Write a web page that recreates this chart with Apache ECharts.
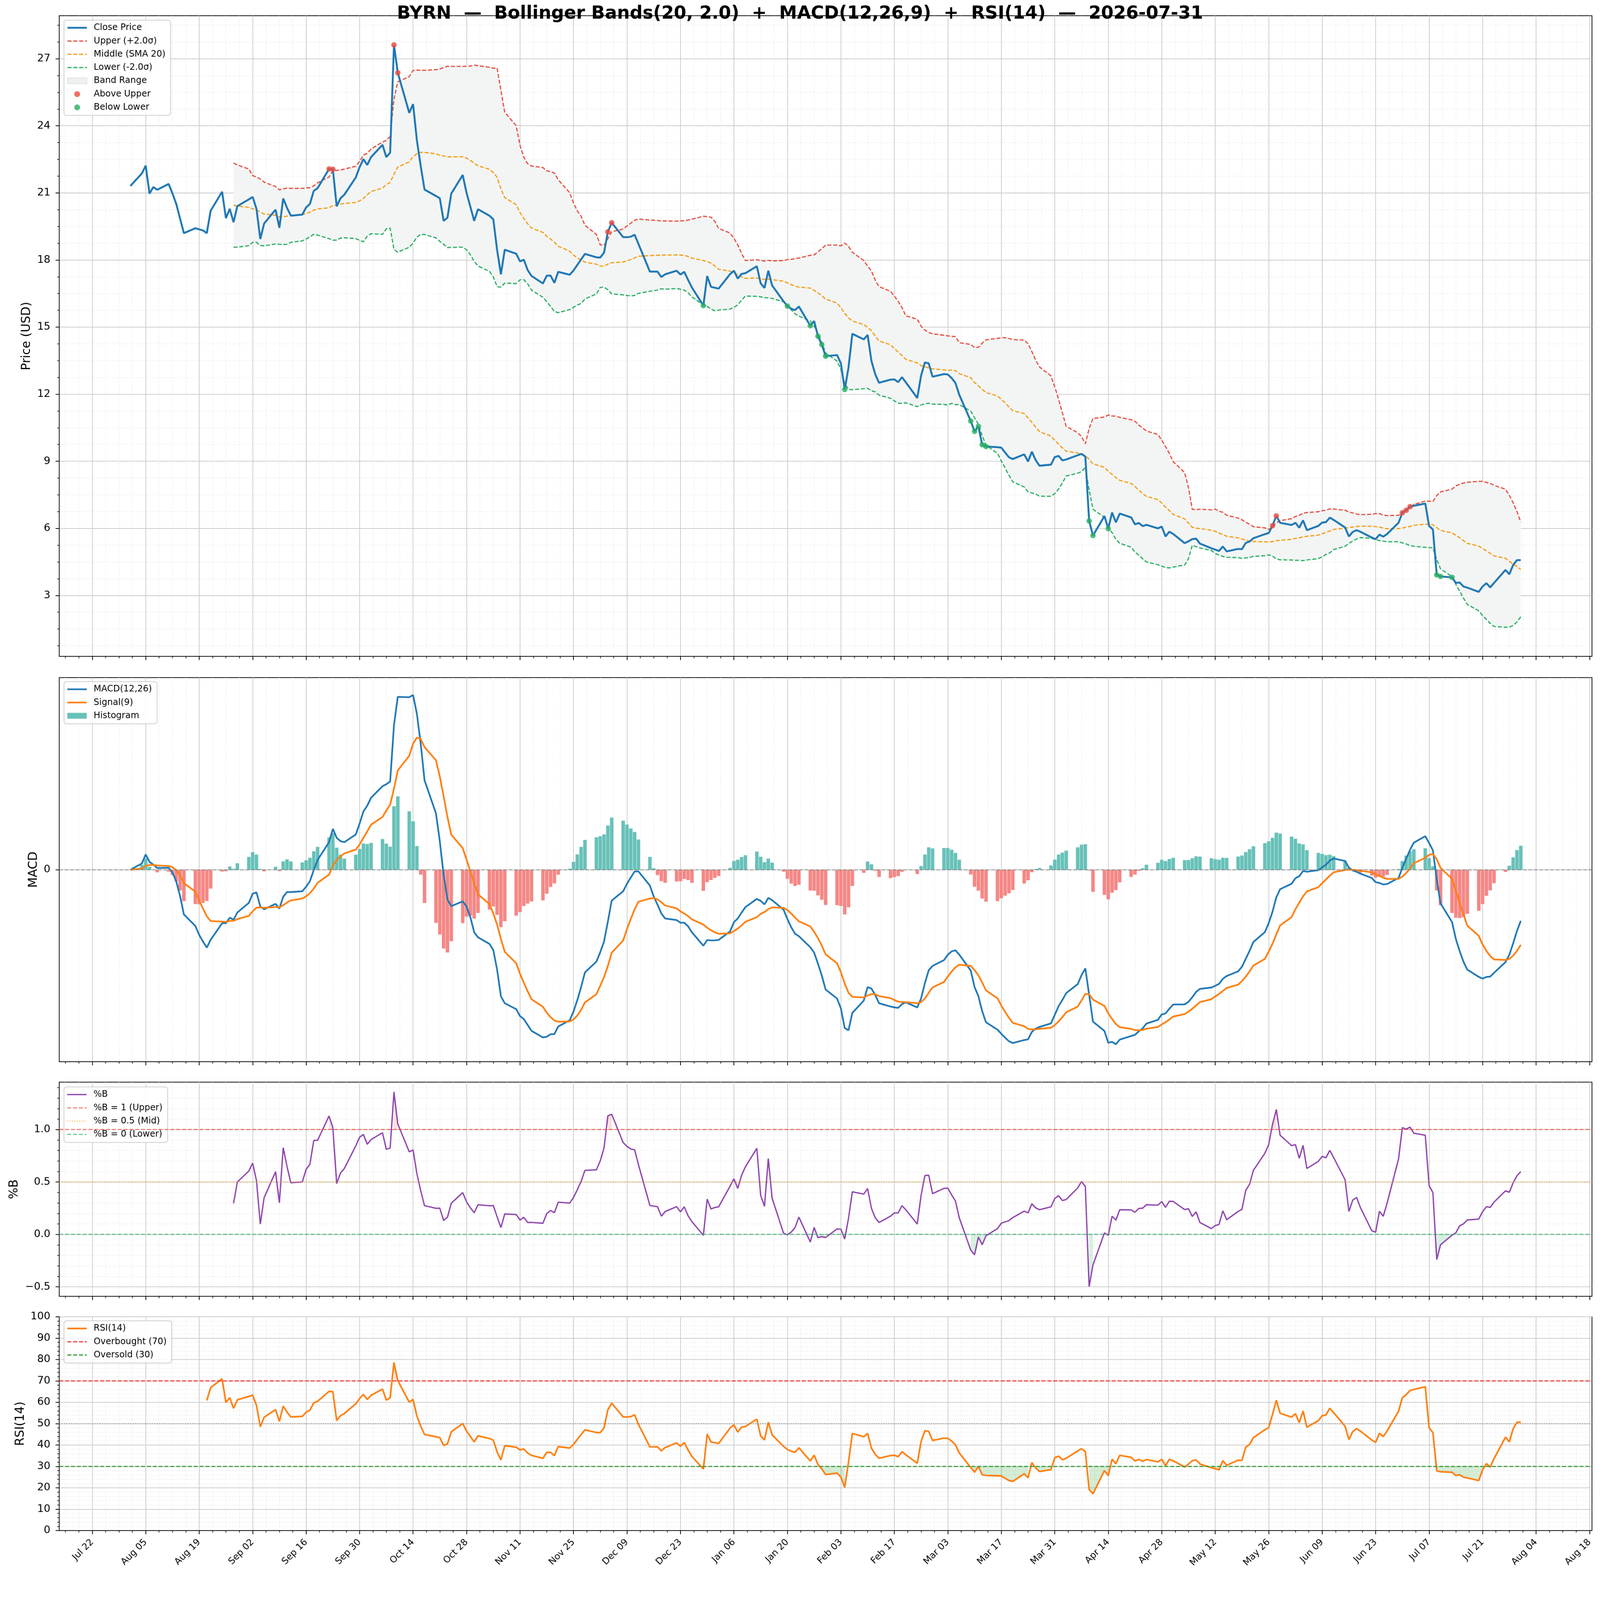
<!DOCTYPE html>
<html>
<head>
<meta charset="utf-8">
<title>BYRN Bollinger Bands + MACD + RSI</title>
<script src="https://cdn.jsdelivr.net/npm/echarts@6.0.0/dist/echarts.min.js"></script>
<style>
html,body{margin:0;padding:0;background:#fff;overflow:hidden;}
#wrap{width:4378px;height:4322px;transform-origin:0 0;}
#chart{width:4378px;height:4322px;}
</style>
</head>
<body>
<div id="wrap"><div id="chart"></div></div>
<script>
// ================= DATA =================
const TICKER = 'BYRN';
const AS_OF = '2026-07-31';
const START_DATE = '2025-08-01';   // first trading day shown
const END_DATE = '2026-07-31';     // last trading day shown (weekdays only)

// Daily close prices (USD), one value per weekday, grouped by month
const close_2025_08 = [21.31, 21.87, 22.22, 20.97, 21.26, 21.14, 21.40, 20.98, 20.51, 19.85, 19.20, 19.42, 19.37, 19.32, 19.20, 20.20, 21.05, 19.87, 20.29, 19.69, 20.41];
const close_2025_09 = [20.71, 20.82, 20.29, 18.94, 19.63, 20.25, 19.44, 20.75, 20.33, 19.98, 20.03, 20.35, 20.51, 21.09, 21.21, 22.07, 22.06, 20.40, 20.76, 20.92, 21.69, 22.15];
const close_2025_10 = [22.51, 22.25, 22.60, 23.15, 22.60, 22.80, 27.62, 26.37, 24.58, 24.97, 23.35, 22.20, 21.15, 20.86, 20.76, 19.75, 19.89, 20.97, 21.80, 21.00, 20.38, 19.75, 20.27];
const close_2025_11 = [19.98, 19.82, 18.45, 17.36, 18.46, 18.28, 17.94, 18.01, 17.55, 17.29, 16.95, 17.30, 17.30, 16.98, 17.47, 17.34, 17.53, 17.78, 18.03, 18.27];
const close_2025_12 = [18.12, 18.11, 18.33, 19.26, 19.67, 19.02, 19.02, 19.04, 19.13, 18.72, 17.48, 17.48, 17.48, 17.24, 17.36, 17.52, 17.35, 17.47, 17.11, 16.77, 15.96, 17.28, 16.80];
const close_2026_01 = [16.76, 16.72, 17.37, 17.52, 17.17, 17.38, 17.41, 17.72, 16.96, 16.75, 17.52, 16.86, 16.15, 15.94, 15.82, 15.76, 15.92, 15.06, 15.27, 14.59, 14.22, 13.70];
const close_2026_02 = [13.75, 13.38, 12.21, 13.19, 14.70, 14.45, 14.65, 13.49, 12.89, 12.51, 12.65, 12.66, 12.54, 12.76, 12.53, 11.83, 12.83, 13.42, 13.38, 12.78];
const close_2026_03 = [12.90, 12.88, 12.72, 12.50, 11.97, 10.80, 10.34, 10.56, 9.74, 9.66, 9.63, 9.61, 9.39, 9.18, 9.10, 9.31, 8.99, 9.43, 9.05, 8.80, 8.85, 9.19];
const close_2026_04 = [9.24, 9.04, 9.08, 9.27, 9.33, 9.21, 6.33, 5.68, 6.55, 5.99, 6.71, 6.27, 6.66, 6.49, 6.18, 6.24, 6.10, 6.16, 6.00, 6.08, 5.64, 5.85];
const close_2026_05 = [5.75, 5.34, 5.42, 5.52, 5.54, 5.32, 5.11, 5.05, 4.99, 5.19, 4.97, 5.08, 5.07, 5.35, 5.41, 5.56, 5.74, 5.79, 6.12, 6.56, 6.25];
const close_2026_06 = [6.15, 6.25, 6.03, 6.36, 5.92, 6.11, 6.26, 6.28, 6.48, 6.38, 6.04, 5.64, 5.84, 5.92, 5.85, 5.59, 5.52, 5.72, 5.63, 5.75, 6.25, 6.70];
const close_2026_07 = [6.81, 6.97, 7.01, 7.11, 6.11, 5.95, 3.92, 3.85, 3.81, 3.56, 3.58, 3.40, 3.35, 3.16, 3.40, 3.55, 3.36, 3.56, 4.14, 3.95, 4.36, 4.58, 4.58];

// Indicator parameters (from the title)
const BB_PERIOD = 20, BB_K = 2.0;
const MACD_FAST = 12, MACD_SLOW = 26, MACD_SIGNAL = 9;
const RSI_PERIOD = 14;

// Tick labels
const X_TICK_DATES = ['2025-07-22','2025-08-05','2025-08-19','2025-09-02','2025-09-16','2025-09-30','2025-10-14','2025-10-28','2025-11-11','2025-11-25','2025-12-09','2025-12-23','2026-01-06','2026-01-20','2026-02-03','2026-02-17','2026-03-03','2026-03-17','2026-03-31','2026-04-14','2026-04-28','2026-05-12','2026-05-26','2026-06-09','2026-06-23','2026-07-07','2026-07-21','2026-08-04','2026-08-18'];
const PRICE_TICKS = [3, 6, 9, 12, 15, 18, 21, 24, 27];
const MACD_TICKS = [0];
const PCTB_TICKS = [-0.5, 0.0, 0.5, 1.0];
const RSI_TICKS = [0, 10, 20, 30, 40, 50, 60, 70, 80, 90, 100];

// ================= DERIVED SERIES =================
const MS_DAY = 86400000;
const MONTHS = ['Jan','Feb','Mar','Apr','May','Jun','Jul','Aug','Sep','Oct','Nov','Dec'];
function parseDate(s) { const p = s.split('-').map(Number); return Date.UTC(p[0], p[1] - 1, p[2]); }
function fmtDate(t) { const d = new Date(t); return MONTHS[d.getUTCMonth()] + ' ' + String(d.getUTCDate()).padStart(2, '0'); }

const allDates = [];
for (let t = parseDate(START_DATE); t <= parseDate(END_DATE); t += MS_DAY) {
  const wd = new Date(t).getUTCDay();
  if (wd !== 0 && wd !== 6) allDates.push(t);
}
const allClose = [].concat(close_2025_08, close_2025_09, close_2025_10, close_2025_11, close_2025_12,
  close_2026_01, close_2026_02, close_2026_03, close_2026_04, close_2026_05, close_2026_06, close_2026_07);
const n = Math.min(allDates.length, allClose.length);
const dates = allDates.slice(0, n), close = allClose.slice(0, n);

// Bollinger bands (SMA20, sample std)
const mid = [], upper = [], lower = [], pctB = [];
for (let i = 0; i < n; i++) {
  if (i < BB_PERIOD - 1) { mid.push(null); upper.push(null); lower.push(null); pctB.push(null); continue; }
  let s = 0; for (let j = i - BB_PERIOD + 1; j <= i; j++) s += close[j];
  const m = s / BB_PERIOD;
  let v = 0; for (let j = i - BB_PERIOD + 1; j <= i; j++) v += (close[j] - m) * (close[j] - m);
  const sd = Math.sqrt(v / (BB_PERIOD - 1));
  mid.push(m); upper.push(m + BB_K * sd); lower.push(m - BB_K * sd);
  pctB.push((close[i] - (m - BB_K * sd)) / (2 * BB_K * sd));
}
// MACD
function ema(arr, span) { const a = 2 / (span + 1); const out = []; for (let i = 0; i < arr.length; i++) out.push(i === 0 ? arr[0] : a * arr[i] + (1 - a) * out[i - 1]); return out; }
const emaF = ema(close, MACD_FAST), emaS = ema(close, MACD_SLOW);
const macd = emaF.map((v, i) => v - emaS[i]);
const signal = ema(macd, MACD_SIGNAL);
const hist = macd.map((v, i) => v - signal[i]);
// RSI (Wilder smoothing)
const rsi = [null];
{ const a = 1 / RSI_PERIOD; let ag = 0, al = 0;
  for (let i = 1; i < n; i++) {
    const d = close[i] - close[i - 1], g = Math.max(d, 0), l = Math.max(-d, 0);
    if (i === 1) { ag = g; al = l; } else { ag = a * g + (1 - a) * ag; al = a * l + (1 - a) * al; }
    rsi.push(i >= RSI_PERIOD ? (al === 0 ? 100 : 100 - 100 / (1 + ag / al)) : null);
  } }

// ================= AXIS EXTENTS (matplotlib-like 5% margins) =================
function padExtent(vals, frac) {
  let lo = Infinity, hi = -Infinity;
  vals.forEach(v => { if (v != null && isFinite(v)) { lo = Math.min(lo, v); hi = Math.max(hi, v); } });
  const p = (hi - lo) * frac; return [lo - p, hi + p];
}
const HALF_BAR = 0.4 * MS_DAY;
const [X_MIN, X_MAX] = padExtent([dates[0] - HALF_BAR, dates[n - 1] + HALF_BAR], 0.05);
const [P_MIN, P_MAX] = padExtent([].concat(close, upper, lower), 0.05);
const [M_MIN, M_MAX] = padExtent([].concat(macd, signal, hist, [0]), 0.05);
const [B_MIN, B_MAX] = padExtent(pctB, 0.05);

const X_MAJOR = X_TICK_DATES.map(parseDate).filter(t => t >= X_MIN && t <= X_MAX);
function minorTicks(majors, nDiv, lo, hi) {
  const step = (majors[1] - majors[0]) / nDiv, out = [];
  const start = majors[0] - Math.ceil((majors[0] - lo) / step) * step;
  for (let k = 0; ; k++) {
    const v = start + k * step; if (v > hi + 1e-9) break;
    if (v < lo - 1e-9) continue;
    if (majors.some(m => Math.abs(m - v) < step * 1e-6)) continue;
    out.push(v);
  }
  return out;
}
const X_MINOR = minorTicks(X_MAJOR, 4, X_MIN, X_MAX);
const PRICE_MINOR = minorTicks(PRICE_TICKS, 4, P_MIN, P_MAX);
const PCTB_MINOR = minorTicks(PCTB_TICKS, 5, B_MIN, B_MAX);
const RSI_MINOR = minorTicks(RSI_TICKS, 5, 0, 100);

// ================= STYLE =================
const FONT = "'DejaVu Sans', sans-serif";
const GRID_LEFT = 162, GRID_RIGHT = 22;
const PANELS = [ { top: 43, height: 1753 }, { top: 1854, height: 1051 }, { top: 2961, height: 586 }, { top: 3603, height: 585 } ];
const MAJOR_GRID = { color: '#cbcbcb', width: 2 };
const MINOR_GRID = { color: '#dedede', width: 1.5, type: [2, 4] };
const DASH = [11, 5];
const C_CLOSE = '#1f77b4', C_UP = '#e74c3c', C_MID = '#f39c12', C_LOW = '#27ae60';
const C_HPOS = '#67c1b8', C_HNEG = '#f48785';
const C_BAND = '#f3f5f5';

function xAxesFor(gi, showLabels) {
  return [
    { type: 'value', gridIndex: gi, position: 'bottom', min: X_MIN, max: X_MAX,
      axisLine: { show: true, onZero: false, lineStyle: { color: '#000', width: 2 } },
      axisTick: { show: true, customValues: X_MAJOR, length: 10, lineStyle: { color: '#000', width: 2 } },
      axisLabel: { show: showLabels, customValues: X_MAJOR, formatter: fmtDate, rotate: 45, fontSize: 25, color: '#000', fontFamily: FONT, margin: 28 },
      splitLine: { show: true, lineStyle: MAJOR_GRID } },
    { type: 'value', gridIndex: gi, position: 'bottom', min: X_MIN, max: X_MAX,
      axisLine: { show: false, onZero: false },
      axisTick: { show: true, customValues: X_MINOR, length: 5.5, lineStyle: { color: '#000', width: 1.6 } },
      axisLabel: { show: false },
      splitLine: { show: true, lineStyle: MINOR_GRID } }
  ];
}
function yAxesFor(gi, min, max, majors, minors, fmt, name, nameGap) {
  return [
    { type: 'value', gridIndex: gi, position: 'left', min, max,
      name, nameLocation: 'middle', nameRotate: 90, nameGap,
      nameTextStyle: { fontSize: 33, color: '#000', fontFamily: FONT },
      axisLine: { show: true, onZero: false, lineStyle: { color: '#000', width: 2 } },
      axisTick: { show: true, customValues: majors, length: 10, lineStyle: { color: '#000', width: 2 } },
      axisLabel: { show: true, customValues: majors, formatter: fmt, fontSize: 28.5, color: '#000', fontFamily: FONT, margin: 24 },
      splitLine: { show: true, lineStyle: MAJOR_GRID } },
    { type: 'value', gridIndex: gi, position: 'left', min, max,
      axisLine: { show: false, onZero: false },
      axisTick: { show: minors.length > 0, customValues: minors.length ? minors : majors, length: 5.5, lineStyle: { color: '#000', width: 1.6 } },
      axisLabel: { show: false },
      splitLine: { show: minors.length > 0, lineStyle: MINOR_GRID } }
  ];
}
const fmtInt = v => String(Math.round(v));
const fmtPctB = v => (v < -1e-9 ? '\u2212' : '') + Math.abs(v).toFixed(1);

const LINE_ITEM = name => ({ name, itemStyle: { opacity: 0 } });
const RECT_ICON = 'path://M0,0 L53,0 L53,16 L0,16 Z';
function legendFor(top, names) {
  return { show: true, orient: 'vertical', left: 175, top, selectedMode: false,
    itemWidth: 53, itemHeight: 16, itemGap: 12.3, padding: [9, 14, 10, 7],
    backgroundColor: 'rgba(255,255,255,0.85)', borderColor: '#cccccc', borderWidth: 2, borderRadius: 7,
    lineStyle: { width: 'inherit' },
    textStyle: { fontSize: 24, lineHeight: 24, color: '#000', fontFamily: FONT, padding: [0, 0, 0, 14] },
    data: names };
}

const P = arr => dates.map((t, i) => [t, arr[i]]);
function lineSeries(name, gi, data, color, width, type, z, extra) {
  return Object.assign({ name, type: 'line', xAxisIndex: 2 * gi, yAxisIndex: 2 * gi, data, symbol: 'none', showSymbol: false,
    connectNulls: false, animation: false, z: z || 2, silent: true,
    lineStyle: { color, width, type: type || 'solid' }, itemStyle: { color }, emphasis: { disabled: true } }, extra || {});
}
function refLine(name, gi, y, color, width, type, opacity) {
  return { name, type: 'line', xAxisIndex: 2 * gi, yAxisIndex: 2 * gi, data: [], symbol: 'none', animation: false, silent: true,
    lineStyle: { color, width, type, opacity }, itemStyle: { color },
    markLine: { silent: true, symbol: ['none', 'none'], animation: false, label: { show: false }, emphasis: { disabled: true },
      lineStyle: { color, width, type, opacity }, data: [{ yAxis: y }] } };
}
// matplotlib-style fill_between(x, y1, y2, where=mask) : one polygon per contiguous run, drawn via axis coords
function fillBetween(name, gi, y1, y2, mask, color, z) {
  const runs = []; let cur = null;
  for (let i = 0; i < n; i++) {
    const ok = mask[i] && y1[i] != null && y2[i] != null;
    if (ok) { if (!cur) { cur = []; runs.push(cur); } cur.push(i); } else cur = null;
  }
  return { name, type: 'custom', xAxisIndex: 2 * gi, yAxisIndex: 2 * gi, silent: true, animation: false, clip: true, z: z || 1,
    itemStyle: { color }, data: [[dates[0], y1.find(v => v != null) || 0]],
    renderItem: (params, api) => ({ type: 'group', children: runs.filter(r => r.length > 1).map(r => ({
      type: 'polygon', silent: true,
      shape: { points: r.map(i => api.coord([dates[i], y1[i]])).concat(r.slice().reverse().map(i => api.coord([dates[i], y2[i]]))) },
      style: { fill: color, stroke: null } })) }) };
}

const above = [], below = [];
for (let i = 0; i < n; i++) {
  if (upper[i] != null && close[i] > upper[i]) above.push([dates[i], close[i]]);
  if (lower[i] != null && close[i] < lower[i]) below.push([dates[i], close[i]]);
}
const ones = dates.map(() => 1), zeros = dates.map(() => 0);
const v70 = dates.map(() => 70), v30 = dates.map(() => 30);

const series = [
  // ---- price panel ----
  fillBetween('Band Range', 0, lower, upper, upper.map(v => v != null), C_BAND, 1),
  lineSeries('Upper (+2.0\u03c3)', 0, P(upper), C_UP, 3.2, DASH, 2),
  lineSeries('Middle (SMA 20)', 0, P(mid), C_MID, 3.2, DASH, 2),
  lineSeries('Lower (-2.0\u03c3)', 0, P(lower), C_LOW, 3.2, DASH, 2),
  lineSeries('Close Price', 0, P(close), C_CLOSE, 5.2, 'solid', 3),
  { name: 'Above Upper', type: 'scatter', xAxisIndex: 0, yAxisIndex: 0, data: above, symbol: 'circle', symbolSize: 15,
    itemStyle: { color: C_UP }, z: 4, animation: false, silent: true },
  { name: 'Below Lower', type: 'scatter', xAxisIndex: 0, yAxisIndex: 0, data: below, symbol: 'circle', symbolSize: 15,
    itemStyle: { color: C_LOW }, z: 4, animation: false, silent: true },
  // ---- MACD panel ----
  { name: 'Histogram', type: 'bar', xAxisIndex: 2, yAxisIndex: 2, data: P(hist), barWidth: 9.5, z: 1, animation: false, silent: true,
    itemStyle: { color: p => (p.value[1] >= 0 ? C_HPOS : C_HNEG) },
    markLine: { silent: true, symbol: ['none', 'none'], animation: false, label: { show: false },
      lineStyle: { color: '#808080', width: 2.2, type: [10, 5] }, data: [{ yAxis: 0 }] } },
  lineSeries('MACD(12,26)', 1, P(macd), C_CLOSE, 4.6, 'solid', 3),
  lineSeries('Signal(9)', 1, P(signal), '#ff7f0e', 4.6, 'solid', 3),
  // ---- %B panel ----
  fillBetween('_pb_hi', 2, ones, pctB, pctB.map(v => v != null && v > 1), 'rgba(231,76,60,0.18)', 1),
  fillBetween('_pb_lo', 2, pctB, zeros, pctB.map(v => v != null && v < 0), 'rgba(39,174,96,0.18)', 1),
  refLine('%B = 1 (Upper)', 2, 1, C_UP, 3, DASH, 0.7),
  refLine('%B = 0.5 (Mid)', 2, 0.5, C_MID, 3, [2.5, 4], 0.7),
  refLine('%B = 0 (Lower)', 2, 0, C_LOW, 3, DASH, 0.7),
  lineSeries('%B', 2, P(pctB), '#8e44ad', 3.6, 'solid', 3),
  // ---- RSI panel ----
  fillBetween('_rsi_hi', 3, v70, rsi, rsi.map(v => v != null && v > 70), 'rgba(238,51,51,0.15)', 1),
  fillBetween('_rsi_lo', 3, rsi, v30, rsi.map(v => v != null && v < 30), 'rgba(44,160,44,0.2)', 1),
  refLine('Overbought (70)', 3, 70, '#ee3333', 3.2, DASH, 0.95),
  refLine('Oversold (30)', 3, 30, '#2a982a', 3.2, DASH, 0.95),
  lineSeries('RSI(14)', 3, P(rsi), '#ff7f0e', 4.4, 'solid', 3, {
    markLine: { silent: true, symbol: ['none', 'none'], animation: false, label: { show: false },
      lineStyle: { color: '#999999', width: 2.5, type: [2.5, 4] }, data: [{ yAxis: 50 }] } })
];

const option = {
  backgroundColor: '#ffffff',
  animation: false,
  textStyle: { fontFamily: FONT },
  title: { text: TICKER + '  \u2014  Bollinger Bands(20, 2.0)  +  MACD(12,26,9)  +  RSI(14)  \u2014  ' + AS_OF,
    left: 'center', top: 14, padding: 0,
    textStyle: { fontSize: 49, fontWeight: 'bold', color: '#000', fontFamily: FONT } },
  grid: PANELS.map(p => ({ left: GRID_LEFT, right: GRID_RIGHT, top: p.top, height: p.height, show: true,
    borderColor: '#000', borderWidth: 2, backgroundColor: 'transparent', containLabel: false, outerBoundsMode: 'none' })),
  xAxis: [].concat(xAxesFor(0, false), xAxesFor(1, false), xAxesFor(2, false), xAxesFor(3, true)),
  yAxis: [].concat(
    yAxesFor(0, P_MIN, P_MAX, PRICE_TICKS, PRICE_MINOR, fmtInt, 'Price (USD)', 72),
    yAxesFor(1, M_MIN, M_MAX, MACD_TICKS, [], fmtInt, 'MACD', 50),
    yAxesFor(2, B_MIN, B_MAX, PCTB_TICKS, PCTB_MINOR, fmtPctB, '%B', 106),
    yAxesFor(3, 0, 100, RSI_TICKS, RSI_MINOR, fmtInt, 'RSI(14)', 88)),
  legend: [
    legendFor(55, [LINE_ITEM('Close Price'), LINE_ITEM('Upper (+2.0\u03c3)'), LINE_ITEM('Middle (SMA 20)'), LINE_ITEM('Lower (-2.0\u03c3)'),
      { name: 'Band Range', icon: RECT_ICON, itemStyle: { color: '#eef1f1', borderColor: '#d6dcdc', borderWidth: 1.5, opacity: 1 } },
      { name: 'Above Upper', icon: 'circle' }, { name: 'Below Lower', icon: 'circle' }]),
    legendFor(1865, [LINE_ITEM('MACD(12,26)'), LINE_ITEM('Signal(9)'), { name: 'Histogram', icon: RECT_ICON, itemStyle: { color: C_HPOS } }]),
    legendFor(2974, [LINE_ITEM('%B'), LINE_ITEM('%B = 1 (Upper)'), LINE_ITEM('%B = 0.5 (Mid)'), LINE_ITEM('%B = 0 (Lower)')]),
    legendFor(3614, [LINE_ITEM('RSI(14)'), LINE_ITEM('Overbought (70)'), LINE_ITEM('Oversold (30)')])
  ],
  series
};

// fit the 4378x4322 design into the actual viewport
const S = Math.min(window.innerWidth / 4378, window.innerHeight / 4322);
if (Math.abs(S - 1) > 0.001) document.getElementById('wrap').style.transform = 'scale(' + S + ')';
const chart = echarts.init(document.getElementById('chart'), null,
  { renderer: 'canvas', width: 4378, height: 4322, devicePixelRatio: Math.max(1, S * (window.devicePixelRatio || 1)) });
chart.setOption(option);
</script>
</body>
</html>
